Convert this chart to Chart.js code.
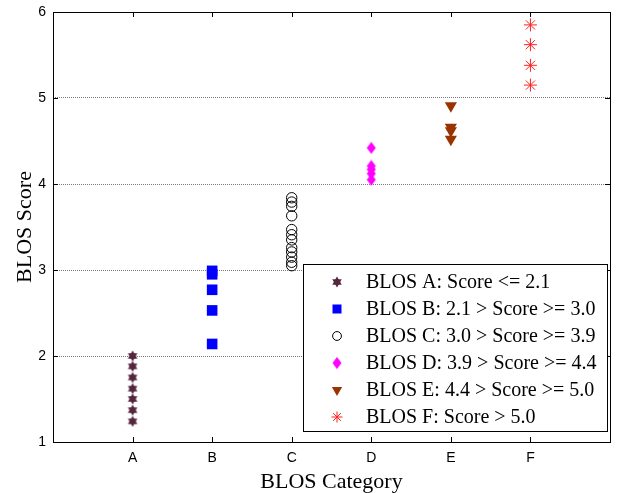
<!DOCTYPE html>
<html>
<head>
<meta charset="utf-8">
<script src="https://cdn.jsdelivr.net/npm/chart.js@4.4.0/dist/chart.umd.min.js"></script>
<style>
html,body{margin:0;padding:0;background:#fff;}
#wrap{width:623px;height:493px;}
</style>
</head>
<body>
<div id="wrap"><canvas id="c" width="623" height="493"></canvas></div>
<script>
const categories = ['A', 'B', 'C', 'D', 'E', 'F'];
const xTickLabels = ['', 'A', 'B', 'C', 'D', 'E', 'F', ''];
const yTicks = [1, 2, 3, 4, 5, 6];
const legendLabels = [
  'BLOS A: Score <= 2.1',
  'BLOS B: 2.1 > Score >= 3.0',
  'BLOS C: 3.0 > Score >= 3.9',
  'BLOS D: 3.9 > Score >= 4.4',
  'BLOS E: 4.4 > Score >= 5.0',
  'BLOS F: Score > 5.0'
];
const scoresA = [2.00, 1.88, 1.75, 1.62, 1.50, 1.37, 1.24];
const scoresB = [2.99, 2.95, 2.77, 2.53, 2.14];
const scoresC = [3.84, 3.79, 3.74, 3.63, 3.47, 3.41, 3.35, 3.26, 3.21, 3.15, 3.09, 3.05];
const scoresD = [4.42, 4.21, 4.17, 4.12, 4.05];
const scoresE = [4.91, 4.66, 4.62, 4.52];
const scoresF = [5.85, 5.62, 5.38, 5.15];

function makeCanvas(w, h, draw) {
  const cv = document.createElement('canvas');
  cv.width = w; cv.height = h;
  draw(cv.getContext('2d'), w, h);
  return cv;
}
const hexColor = '#55263f';
const hexagram = makeCanvas(12, 12, (g, w, h) => {
  g.fillStyle = hexColor;
  const cx = w / 2, cy = h / 2, r = 5.5;
  for (let t = 0; t < 2; t++) {
    g.beginPath();
    for (let i = 0; i < 3; i++) {
      const a = -Math.PI / 2 + t * Math.PI + i * 2 * Math.PI / 3;
      const px = cx + r * Math.cos(a), py = cy + r * Math.sin(a);
      if (i === 0) g.moveTo(px, py); else g.lineTo(px, py);
    }
    g.closePath();
    g.fill();
  }
});
const diamond = makeCanvas(10, 13, (g, w, h) => {
  g.fillStyle = '#ff00ff';
  g.beginPath();
  g.moveTo(w / 2, 0.5); g.lineTo(w - 0.5, h / 2); g.lineTo(w / 2, h - 0.5); g.lineTo(0.5, h / 2);
  g.closePath(); g.fill();
});

const series = [scoresA, scoresB, scoresC, scoresD, scoresE, scoresF];
const styles = [
  {pointStyle: hexagram, radius: 6, bg: hexColor, border: hexColor, bw: 0, rot: 0},
  {pointStyle: 'rect', radius: 7.5, bg: '#0000ff', border: '#0000ff', bw: 0, rot: 0},
  {pointStyle: 'circle', radius: 5.2, bg: 'rgba(0,0,0,0)', border: '#000000', bw: 1, rot: 0},
  {pointStyle: diamond, radius: 6, bg: '#ff00ff', border: '#ff00ff', bw: 0, rot: 0},
  {pointStyle: 'triangle', radius: 7, bg: '#993300', border: '#993300', bw: 0, rot: 180},
  {pointStyle: 'star', radius: 6.5, bg: '#ff0000', border: '#ff2020', bw: 1, rot: 0}
];

const datasets = series.map((vals, i) => ({
  label: legendLabels[i],
  data: vals.map(v => ({x: i + 1, y: v})),
  showLine: false,
  pointStyle: styles[i].pointStyle,
  pointRadius: styles[i].radius,
  pointHoverRadius: styles[i].radius,
  pointRotation: styles[i].rot,
  backgroundColor: styles[i].bg,
  borderColor: styles[i].border,
  pointBorderWidth: styles[i].bw,
  borderWidth: styles[i].bw
}));

const framePlugin = {
  id: 'frame',
  afterDatasetsDraw(chart) {
    const {ctx, chartArea: a, scales} = chart;
    ctx.save();
    ctx.strokeStyle = '#000';
    ctx.lineWidth = 1;
    ctx.beginPath();
    const tl = 5;
    for (let v = 0; v <= 7; v++) {
      const x = Math.round(scales.x.getPixelForValue(v)) + 0.5;
      ctx.moveTo(x, a.bottom); ctx.lineTo(x, a.bottom - tl);
      ctx.moveTo(x, a.top); ctx.lineTo(x, a.top + tl);
    }
    yTicks.forEach(v => {
      const y = Math.round(scales.y.getPixelForValue(v)) + 0.5;
      ctx.moveTo(a.left, y); ctx.lineTo(a.left + tl, y);
      ctx.moveTo(a.right, y); ctx.lineTo(a.right - tl, y);
    });
    ctx.stroke();
    ctx.strokeRect(Math.round(a.left) + 0.5, Math.round(a.top) + 0.5, Math.round(a.right - a.left), Math.round(a.bottom - a.top));
    ctx.restore();
  }
};

const legendPlugin = {
  id: 'boxLegend',
  afterDraw(chart) {
    const ctx = chart.ctx;
    const bx = 303.5, by = 264.5, bw = 304, bh = 167;
    ctx.save();
    ctx.fillStyle = '#fff';
    ctx.fillRect(bx, by, bw, bh);
    ctx.strokeStyle = '#000';
    ctx.lineWidth = 1;
    ctx.strokeRect(bx, by, bw, bh);
    ctx.font = '20px "Liberation Serif", "Times New Roman", serif';
    ctx.textBaseline = 'middle';
    ctx.textAlign = 'left';
    chart.data.datasets.forEach((ds, i) => {
      const y = 282 + i * 27;
      const st = styles[i];
      ctx.fillStyle = st.bg;
      ctx.strokeStyle = st.border;
      ctx.lineWidth = st.bw;
      Chart.helpers.drawPoint(ctx, {
        pointStyle: st.pointStyle,
        rotation: st.rot,
        radius: st.radius * 0.85,
        borderWidth: st.bw
      }, 337, y);
      ctx.fillStyle = '#000';
      ctx.fillText(ds.label, 366, y + 1);
    });
    ctx.restore();
  }
};

new Chart(document.getElementById('c'), {
  type: 'scatter',
  data: {datasets},
  options: {
    responsive: false,
    animation: false,
    devicePixelRatio: 1,
    layout: {padding: {top: 12, right: 13, left: 0, bottom: 0}},
    plugins: {legend: {display: false}, tooltip: {enabled: false}},
    scales: {
      x: {
        type: 'linear', min: 0, max: 7,
        afterFit(s) { s.height = 51; s.paddingLeft = 0; s.paddingRight = 0; },
        border: {display: false},
        grid: {display: false, drawTicks: false, tickLength: 0},
        ticks: {
          stepSize: 1, autoSkip: false, padding: 8, maxRotation: 0,
          color: '#000',
          font: {family: '"Liberation Sans", Arial, sans-serif', size: 14},
          callback: (v) => xTickLabels[v] !== undefined ? xTickLabels[v] : ''
        },
        afterBuildTicks(s) { s.ticks = xTickLabels.map((_, i) => ({value: i})); },
        title: {
          display: true, text: 'BLOS Category', color: '#000',
          font: {family: '"Liberation Serif", "Times New Roman", serif', size: 22, lineHeight: 1.0},
          padding: {top: 0, bottom: 0}
        }
      },
      y: {
        type: 'linear', min: 1, max: 6,
        afterFit(s) { s.width = 53; s.paddingTop = 0; s.paddingBottom = 0; },
        afterBuildTicks(s) { s.ticks = yTicks.map(v => ({value: v})); },
        border: {display: false, dash: [1, 1]},
        grid: {
          drawTicks: false,
          color: (c) => (c.tick && c.tick.value > 1 && c.tick.value < 6) ? '#7a7a7a' : 'rgba(0,0,0,0)',
          lineWidth: 1
        },
        ticks: {
          padding: 7, color: '#000',
          font: {family: '"Liberation Sans", Arial, sans-serif', size: 14}
        },
        title: {
          display: true, text: 'BLOS Score', color: '#000',
          font: {family: '"Liberation Serif", "Times New Roman", serif', size: 22},
          padding: {top: 12, bottom: 0}
        }
      }
    }
  },
  plugins: [framePlugin, legendPlugin]
});
</script>
</body>
</html>
